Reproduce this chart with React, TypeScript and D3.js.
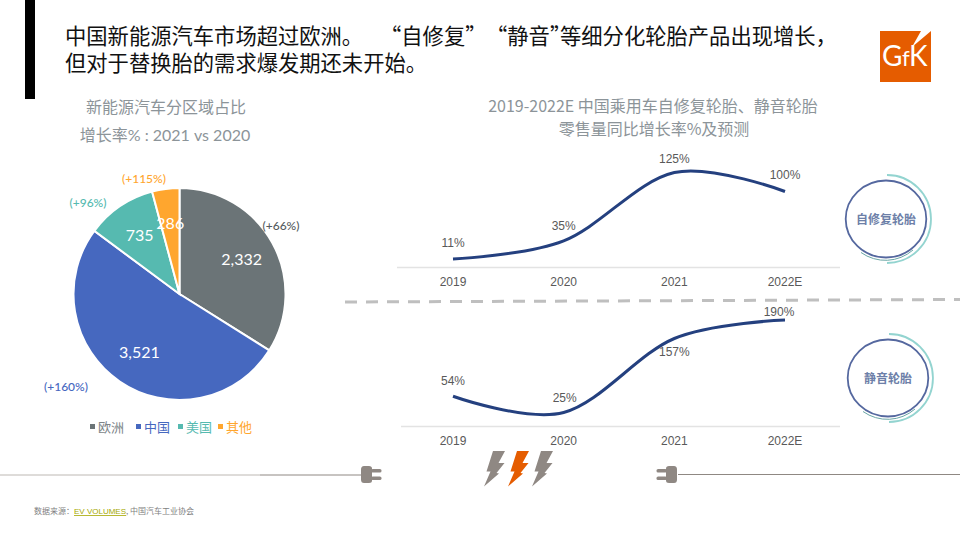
import React from "react";
import * as d3 from "d3";

const regions = ["欧洲", "中国", "美国", "其他"];
const regionValues = [2332, 3521, 735, 286];
const regionGrowth = ["(+66%)", "(+160%)", "(+96%)", "(+115%)"];
const regionColors = ["#6b7477", "#4668bf", "#56bab0", "#ffa62e"];
const years = ["2019", "2020", "2021", "2022E"];
const selfRepair = [11, 35, 125, 100];
const silent = [54, 25, 157, 190];
const selfRepairLabels = ["11%", "35%", "125%", "100%"];
const silentLabels = ["54%", "25%", "157%", "190%"];

const CJK = "'Noto Sans CJK SC', 'Noto Sans', sans-serif";
const LATO = "Lato, 'Noto Sans CJK SC', sans-serif";
const ARIAL = "'Liberation Sans', sans-serif";
const LABEL_COLOR = "#595959";
const GREY_TITLE = "#8c9499";

const pieData = d3.pie<number>().sort(null)(regionValues);
const arcGen = d3.arc<d3.PieArcDatum<number>>().innerRadius(0).outerRadius(106);
const labelArc = d3.arc<d3.PieArcDatum<number>>().innerRadius(71).outerRadius(71);

const xLine = d3.scalePoint<string>().domain(years).range([453, 785]);
const yTop = d3.scaleLinear().domain([11, 125]).range([259, 172.5]);
const yBottom = d3.scaleLinear().domain([25, 190]).range([412.5, 320]);

const lineFor = (yScale: d3.ScaleLinear<number, number>) =>
  d3
    .line<number>()
    .x((_, i) => xLine(years[i]) as number)
    .y((v) => yScale(v))
    .curve(d3.curveCardinal.tension(0));

const growthPos: [number, number][] = [
  [281, 226],
  [66, 387],
  [88, 203],
  [144, 179],
];

const pieLabelOffset: [number, number][] = [
  [0, 0],
  [0, 0],
  [0, 0],
  [0, 0],
];

const legendX = [90, 136, 178, 218];

const Plug = ({ x, y, flip }: { x: number; y: number; flip?: boolean }) => (
  <g transform={`translate(${x},${y}) scale(${flip ? -1 : 1},1)`} fill="#8f8883">
    <path d="M8,-8.5 L3,-8.5 Q0,-8.5 0,-5 L0,5 Q0,8.5 3,8.5 L8,8.5 Q11,8.5 11,6 L11,-6 Q11,-8.5 8,-8.5 Z" />
    <rect x={10} y={-5.5} width={10.5} height={3.6} rx={1.6} />
    <rect x={10} y={2} width={10.5} height={3.6} rx={1.6} />
  </g>
);

const Bolt = ({ x, color }: { x: number; color: string }) => (
  <path
    transform={`translate(${x},451)`}
    fill={color}
    d="M9,0 L21,0 L14.5,12 L20.5,12 L12.5,22 L15,22.5 L0,35.5 L6.5,20.5 L2.5,20.5 Z"
  />
);

const Badge = ({ cx, cy, text, size }: { cx: number; cy: number; text: string; size: number }) => (
  <g>
    <path
      d={`M${cx + 1},${cy - 44} A44,44 0 0 1 ${cx + 1},${cy + 44}`}
      fill="none"
      stroke="#93d4d0"
      strokeWidth={1.8}
    />
    <path
      d={`M${cx - 25},${cy + 33.5} A42,42 0 0 0 ${cx + 27},${cy + 31}`}
      fill="none"
      stroke="#6aa6a5"
      strokeWidth={1}
    />
    <ellipse cx={cx} cy={cy} rx={40.3} ry={38.5} fill="#fff" stroke="#55689f" strokeWidth={1.8} />
    <text x={cx} y={cy + 5} textAnchor="middle" fontFamily={CJK} fontSize={size} fontWeight={700} fill="#6d7fa8">
      {text}
    </text>
  </g>
);

const LineChart = ({
  values,
  labels,
  yScale,
  axisY,
  axisX0,
  labelDy,
  tickY,
}: {
  values: number[];
  labels: string[];
  yScale: d3.ScaleLinear<number, number>;
  axisY: number;
  axisX0: number;
  labelDy: [number, number][];
  tickY: number;
}) => (
  <g>
    <line x1={axisX0} x2={840} y1={axisY} y2={axisY} stroke="#e3e3e3" strokeWidth={1.4} />
    <path d={lineFor(yScale)(values) ?? ""} fill="none" stroke="#24407f" strokeWidth={3} />
    {values.map((v, i) => (
      <text
        key={i}
        x={(xLine(years[i]) as number) + labelDy[i][0]}
        y={yScale(v) + labelDy[i][1]}
        textAnchor="middle"
        fontFamily={ARIAL}
        fontSize={12}
        fill={LABEL_COLOR}
      >
        {labels[i]}
      </text>
    ))}
    {years.map((yr) => (
      <text
        key={yr}
        x={xLine(yr) as number}
        y={tickY}
        textAnchor="middle"
        fontFamily={ARIAL}
        fontSize={12}
        fill={LABEL_COLOR}
      >
        {yr}
      </text>
    ))}
  </g>
);

export default function App() {
  return (
    <svg
      width={960}
      height={540}
      style={{ position: "absolute", left: 0, top: 0, background: "#fff" }}
    >
      <rect x={25} y={0} width={10} height={99} fill="#000" />

      <g fontFamily={CJK} fontSize={21.3} fill="#111">
        <text x={65} y={44}>中国新能源汽车市场超过欧洲。</text>
        <text x={380} y={44}>“自修复”</text>
        <text x={486} y={44}>“静音”</text>
        <text x={560} y={44}>等细分化轮胎产品出现增长，</text>
        <text x={65} y={71}>但对于替换胎的需求爆发期还未开始。</text>
      </g>

      <rect x={880} y={31} width={51} height={51} fill="#e55c00" />
      <path d="M931,31 L921,31 L912,47 Z" fill="#fff" />
      <text x={882} y={66} fontFamily={LATO} fontSize={28} fill="#fff">G</text>
      <text x={902} y={66} fontFamily={LATO} fontSize={22} fill="#fff">f</text>
      <text x={909} y={66} fontFamily={LATO} fontSize={28} fill="#fff">K</text>

      <g fontFamily={LATO} fontSize={16} fill={GREY_TITLE} textAnchor="middle">
        <text x={166} y={113}>新能源汽车分区域占比</text>
        <text x={165} y={141}>增长率% : 2021 vs 2020</text>
      </g>
      <g fontFamily={CJK} fontSize={16} fill={GREY_TITLE} textAnchor="middle">
        <text x={653} y={112}>2019-2022E 中国乘用车自修复轮胎、静音轮胎</text>
        <text x={654} y={135}>零售量同比增长率%及预测</text>
      </g>

      <g transform="translate(179.5,294)">
        {pieData.map((d, i) => (
          <path key={i} d={arcGen(d) ?? ""} fill={regionColors[i]} stroke="#fff" strokeWidth={2} />
        ))}
        {pieData.map((d, i) => {
          const [lx, ly] = labelArc.centroid(d);
          return (
            <text
              key={i}
              x={lx + pieLabelOffset[i][0]}
              y={ly + pieLabelOffset[i][1] + 5.5}
              textAnchor="middle"
              fontFamily={LATO}
              fontSize={16}
              fill="#fff"
            >
              {d3.format(",")(regionValues[i])}
            </text>
          );
        })}
      </g>
      {regionGrowth.map((g, i) => (
        <text
          key={g}
          x={growthPos[i][0]}
          y={growthPos[i][1] + 4}
          textAnchor="middle"
          fontFamily={LATO}
          fontSize={12}
          fontWeight={500}
          fill={i === 0 ? "#555c60" : regionColors[i]}
        >
          {g}
        </text>
      ))}

      {regions.map((r, i) => (
        <g key={r}>
          <rect x={legendX[i]} y={424} width={5} height={5} fill={regionColors[i]} />
          <text x={legendX[i] + 8} y={432} fontFamily={CJK} fontSize={13} fill={i === 0 ? "#7d8488" : regionColors[i]}>
            {r}
          </text>
        </g>
      ))}

      <LineChart
        values={selfRepair}
        labels={selfRepairLabels}
        yScale={yTop}
        axisY={267.5}
        axisX0={397}
        tickY={286}
        labelDy={[
          [0, -12],
          [0, -11],
          [0, -10],
          [0, -12],
        ]}
      />
      <LineChart
        values={silent}
        labels={silentLabels}
        yScale={yBottom}
        axisY={426.5}
        axisX0={401}
        tickY={445}
        labelDy={[
          [0, -11],
          [1, -11],
          [0, 17],
          [-6, -4],
        ]}
      />

      <line x1={345} y1={302} x2={960} y2={299.5} stroke="#bfbfbf" strokeWidth={3} strokeDasharray="12 9" />

      <Badge cx={886} cy={219} text="自修复轮胎" size={12} />
      <Badge cx={888} cy={378} text="静音轮胎" size={12} />

      <line x1={0} x2={260} y1={475} y2={475} stroke="#bdb8b3" strokeWidth={1} />
      <line x1={260} x2={361} y1={475} y2={475} stroke="#8f8883" strokeWidth={1} />
      <Plug x={361} y={474.5} />
      <Bolt x={484} color="#8f8883" />
      <Bolt x={508} color="#e55c00" />
      <Bolt x={532} color="#8f8883" />
      <Plug x={677} y={474.5} flip />
      <line x1={678} x2={960} y1={474.5} y2={474.5} stroke="#8f8883" strokeWidth={1} />

      <text x={34} y={514} fontFamily={CJK} fontSize={8} fill="#7f7f7f">数据来源：</text>
      <text x={74} y={514} fontFamily={ARIAL} fontSize={8} fill="#a5a800" textDecoration="underline">EV VOLUMES</text>
      <text x={126} y={514} fontFamily={CJK} fontSize={8} fill="#7f7f7f">, 中国汽车工业协会</text>
    </svg>
  );
}
